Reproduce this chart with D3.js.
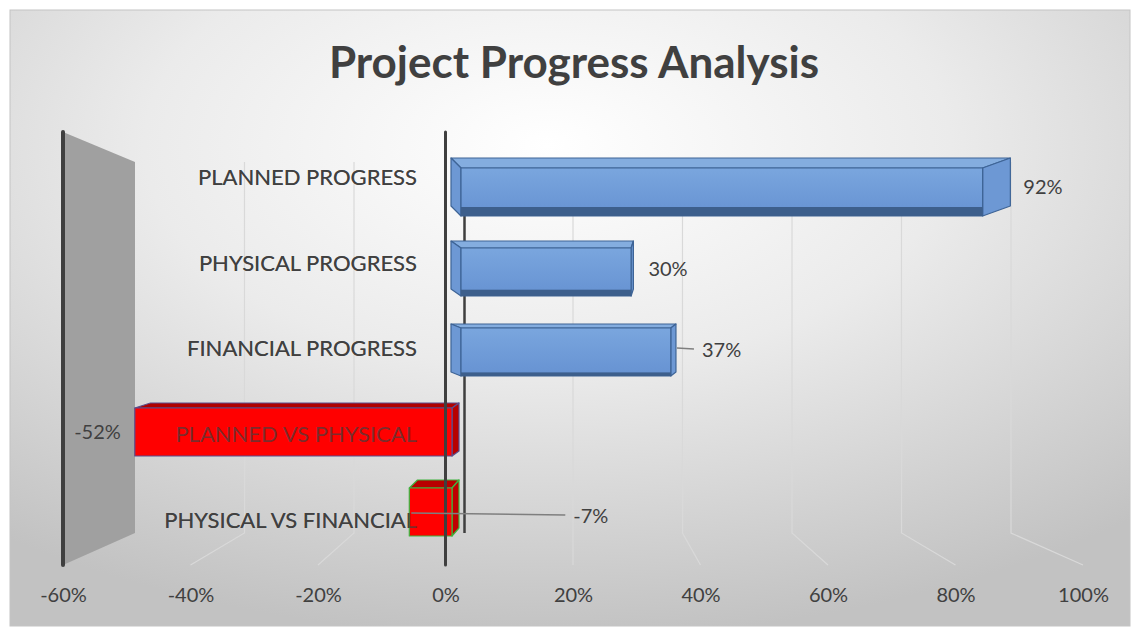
<!DOCTYPE html>
<html>
<head>
<meta charset="utf-8">
<script src="https://cdn.jsdelivr.net/npm/d3@7"></script>
<style>
  html, body { margin: 0; padding: 0; background: #ffffff; }
  svg { display: block; font-family: Lato, "Open Sans", sans-serif; }
</style>
</head>
<body>
<div id="chart"></div>
<script>
// chart data
const categories = ["PLANNED PROGRESS", "PHYSICAL PROGRESS", "FINANCIAL PROGRESS", "PLANNED VS PHYSICAL", "PHYSICAL VS FINANCIAL"];
const values = [92, 30, 37, -52, -7];
const tickValues = [-60, -40, -20, 0, 20, 40, 60, 80, 100];
const chartTitle = "Project Progress Analysis";

// layout helpers (label placement the way they were dragged in the original)
const labelNudge = [
  { dx: 13, dy: 0, leader: false },
  { dx: 15, dy: 0, leader: false },
  { dx: 26, dy: 0, leader: true },
  { dx: -14, dy: 2, leader: false },
  { dx: 164, dy: 8, leader: true }
];

const width = 1132, height = 630;
const textColor = "#404040";

const svg = d3.select("#chart").append("svg")
  .attr("width", width)
  .attr("height", height);

const defs = svg.append("defs");
const bg = defs.append("radialGradient")
  .attr("id", "bgGrad")
  .attr("cx", "48%").attr("cy", "22%").attr("r", "80%");
bg.append("stop").attr("offset", "0%").attr("stop-color", "#ffffff");
bg.append("stop").attr("offset", "45%").attr("stop-color", "#ebebeb");
bg.append("stop").attr("offset", "100%").attr("stop-color", "#c2c2c2");

const blueGrad = defs.append("linearGradient")
  .attr("id", "blueGrad").attr("x1", 0).attr("y1", 0).attr("x2", 0).attr("y2", 1);
blueGrad.append("stop").attr("offset", "0%").attr("stop-color", "#7aa6de");
blueGrad.append("stop").attr("offset", "100%").attr("stop-color", "#6692d2");

// chart area
svg.append("rect")
  .attr("x", 10).attr("y", 10)
  .attr("width", width - 12).attr("height", height - 14)
  .attr("fill", "url(#bgGrad)")
  .attr("stroke", "#c4c4c4")
  .attr("stroke-width", 1);

svg.append("text")
  .attr("x", 574)
  .attr("y", 78)
  .attr("text-anchor", "middle")
  .attr("font-size", "44px")
  .attr("font-weight", "bold")
  .attr("fill", textColor)
  .text(chartTitle);

// 3-D frame: front plane (floor edge, tick labels) and back wall
const frontTop = 132, frontBottom = 565;
const backTop = 162, backBottom = 533;

const xFront = d3.scaleLinear().domain([-60, 100]).range([63, 1083]);
const xBack = d3.scaleLinear().domain([-60, 100]).range([135, 1011]);

// bars are drawn as boxes: a front face and a back face
const xFrontPos = d3.scaleLinear().domain([0, 100]).range([461, 1028]);
const xBackPos = d3.scaleLinear().domain([0, 100]).range([451, 1059]);
const xFrontNeg = d3.scaleLinear().domain([-60, 0]).range([86, 452]);
const xBackNeg = d3.scaleLinear().domain([-60, 0]).range([103, 459]);

const yBar = d3.scaleBand()
  .domain(categories)
  .range([152, 552])
  .paddingInner(0.4)
  .paddingOuter(0.2);

const yLabel = d3.scaleBand()
  .domain(categories)
  .range([frontTop + 2, frontBottom - 2]);

// how far the back face sits above the front face
const depthY = d3.scaleLinear().domain([192, 352, 432, 512]).range([10, 4, 5, 8]);

// left side wall
svg.append("polygon")
  .attr("points", [
    [xFront(-60), frontTop], [xBack(-60), backTop],
    [xBack(-60), backBottom], [xFront(-60), frontBottom]
  ].join(" "))
  .attr("fill", "#a0a0a0");

// gridlines on the back wall and the floor
const grid = svg.append("g");
tickValues.filter(d => d !== -60 && d !== 0).forEach(d => {
  grid.append("polyline")
    .attr("points", [[xBack(d), backTop], [xBack(d), backBottom], [xFront(d), frontBottom]].join(" "))
    .attr("fill", "none")
    .attr("stroke", "#d9d9d9")
    .attr("stroke-width", 1.2);
});

// zero line on the back wall
svg.append("line")
  .attr("x1", xBack(0) + 1).attr("x2", xBack(0) + 1)
  .attr("y1", backTop).attr("y2", backBottom)
  .attr("stroke", "#3f3f3f")
  .attr("stroke-width", 2.5);

// front edge of the wall
svg.append("line")
  .attr("x1", xFront(-60)).attr("x2", xFront(-60))
  .attr("y1", frontTop).attr("y2", frontBottom)
  .attr("stroke", "#3f3f3f")
  .attr("stroke-width", 4)
  .attr("stroke-linecap", "round");

// category labels (under the bars)
const catLabels = svg.append("g");
function drawCategoryLabels(g, opacity) {
  g.selectAll("text")
    .data(categories)
    .join("text")
    .attr("x", 417)
    .attr("y", d => yLabel(d) + yLabel.bandwidth() / 2)
    .attr("dy", "0.36em")
    .attr("text-anchor", "end")
    .attr("font-size", "22px")
    .attr("fill", textColor)
    .attr("fill-opacity", opacity)
    .text(d => d);
}
drawCategoryLabels(catLabels, 1);

// bars
const barData = categories.map((c, i) => {
  const v = values[i];
  const yf0 = yBar(c), yf1 = yf0 + yBar.bandwidth();
  const dy = depthY(yf0 + yBar.bandwidth() / 2);
  const pos = v >= 0;
  return {
    cat: c, v, pos, yf0, yf1, dy,
    xf0: pos ? xFrontPos(0) : xFrontNeg(v),
    xf1: pos ? xFrontPos(v) : xFrontNeg(0),
    xb0: pos ? xBackPos(0) : xBackNeg(v),
    xb1: pos ? xBackPos(v) : xBackNeg(0)
  };
});

const barStyles = {
  pos: { front: "url(#blueGrad)", top: "#84addf", side: "#6d98d4", stroke: "#3e6496" },
  neg: [
    { front: "#ff0000", top: "#b00000", side: "#b80000", stroke: "#5a4d8c" },
    { front: "#ff0000", top: "#b80000", side: "#c00000", stroke: "#3fb43f" }
  ]
};

const bars = svg.append("g");
let negCount = 0;
barData.forEach(b => {
  const st = b.pos ? barStyles.pos : barStyles.neg[negCount++];
  const g = bars.append("g")
    .attr("stroke", st.stroke)
    .attr("stroke-width", 1.2)
    .attr("stroke-linejoin", "round");
  const yb0 = b.yf0 - b.dy, yb1 = b.yf1 - b.dy;

  // top face
  g.append("polygon")
    .attr("points", [[b.xb0, yb0], [b.xb1, yb0], [b.xf1, b.yf0], [b.xf0, b.yf0]].join(" "))
    .attr("fill", st.top);
  // right end
  if (b.xb1 > b.xf1) {
    g.append("polygon")
      .attr("points", [[b.xf1, b.yf0], [b.xb1, yb0], [b.xb1, yb1], [b.xf1, b.yf1]].join(" "))
      .attr("fill", st.side);
  }
  // left end
  if (b.xb0 < b.xf0) {
    g.append("polygon")
      .attr("points", [[b.xb0, yb0], [b.xf0, b.yf0], [b.xf0, b.yf1], [b.xb0, yb1]].join(" "))
      .attr("fill", st.side);
  }
  // front face
  g.append("rect")
    .attr("x", b.xf0).attr("y", b.yf0)
    .attr("width", b.xf1 - b.xf0).attr("height", b.yf1 - b.yf0)
    .attr("fill", st.front);
  // darker lower edge on the blue boxes
  if (b.pos) {
    g.append("rect")
      .attr("x", b.xf0).attr("y", b.yf1 - b.dy * 0.9)
      .attr("width", b.xf1 - b.xf0).attr("height", b.dy * 0.9)
      .attr("fill", "#3d5f8c")
      .attr("stroke", "none");
  }
});

// front zero line (crosses the red boxes)
svg.append("line")
  .attr("x1", xFront(0)).attr("x2", xFront(0))
  .attr("y1", frontTop).attr("y2", frontBottom)
  .attr("stroke", "#3f3f3f")
  .attr("stroke-width", 3)
  .attr("stroke-linecap", "round");

// labels seen through the bars
drawCategoryLabels(svg.append("g"), 0.7);

// value labels
const valueLabels = svg.append("g");
barData.forEach((b, i) => {
  const n = labelNudge[i];
  const cy = (b.yf0 + b.yf1) / 2 - b.dy / 2 + n.dy;
  const tx = b.pos ? b.xb1 + n.dx : b.xf0 + n.dx;
  const anchor = n.dx < 0 ? "end" : "start";
  if (n.leader) {
    const x0 = b.pos ? b.xb1 + 1 : b.xf0 + 2;
    valueLabels.append("line")
      .attr("x1", x0).attr("y1", cy - (b.pos ? 2 : 3))
      .attr("x2", tx - 8).attr("y2", cy - 1)
      .attr("stroke", "#7f7f7f")
      .attr("stroke-width", 1.5);
  }
  valueLabels.append("text")
    .attr("x", tx)
    .attr("y", cy)
    .attr("dy", "0.36em")
    .attr("text-anchor", anchor)
    .attr("font-size", "20px")
    .attr("fill", textColor)
    .text(b.v + "%");
});

// bottom axis on the front edge of the floor
const xAxis = d3.axisBottom(xFront)
  .tickValues(tickValues)
  .tickSize(0)
  .tickPadding(23)
  .tickFormat(d => d + "%");

svg.append("g")
  .attr("transform", `translate(0,${frontBottom})`)
  .call(xAxis)
  .call(g => g.select(".domain").remove())
  .call(g => g.selectAll("text")
    .attr("font-family", "Lato, 'Open Sans', sans-serif")
    .attr("font-size", "20px")
    .attr("fill", textColor));
</script>
</body>
</html>
